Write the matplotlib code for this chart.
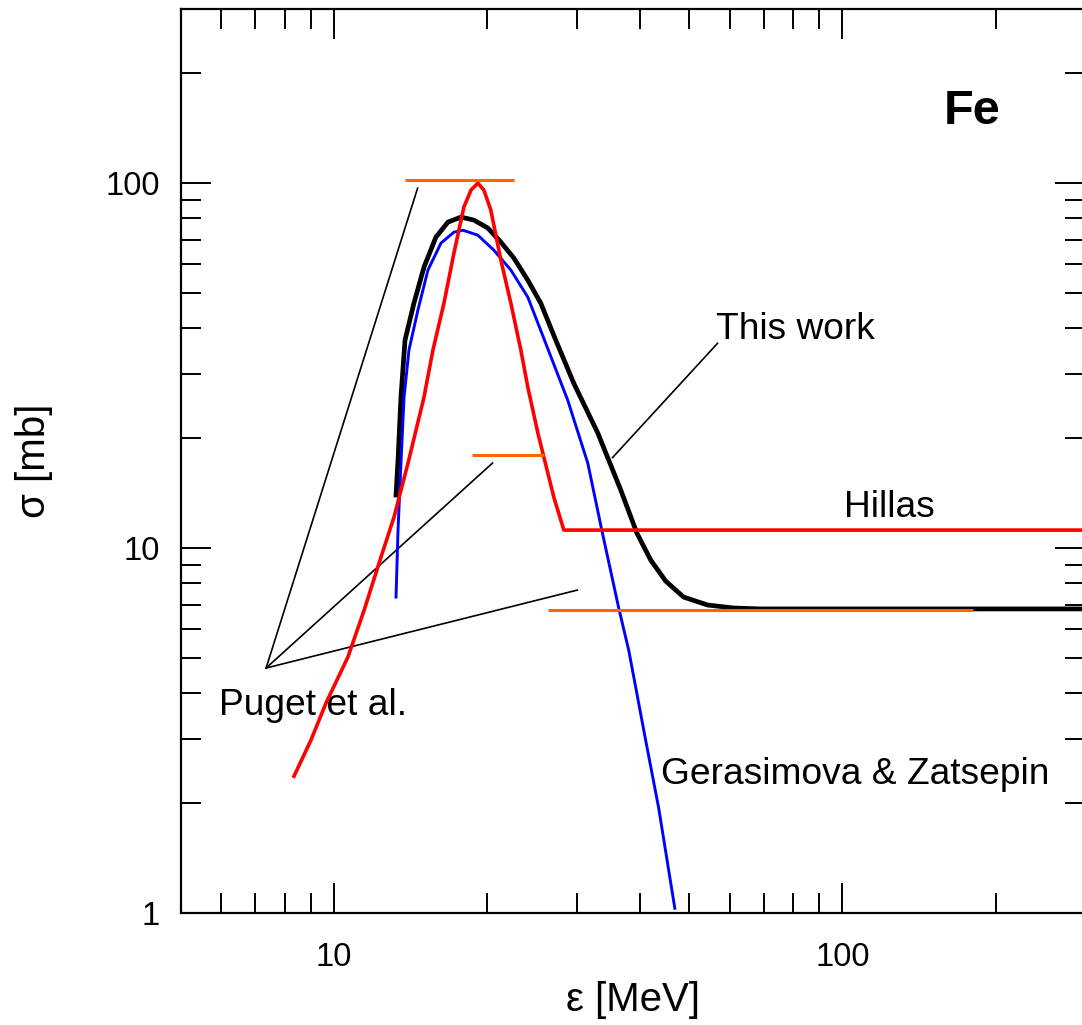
import numpy as np
import matplotlib
matplotlib.use("Agg")
import matplotlib.pyplot as plt
from matplotlib.ticker import LogLocator, FixedLocator, NullFormatter, FixedFormatter

plt.rcParams['font.family'] = ['Liberation Sans', 'DejaVu Sans']

# This work (black)
work_x = [13.24, 13.36, 13.54, 13.79, 14.36, 15.03, 15.86, 16.75, 17.77, 18.84, 20.07,
          21.29, 22.58, 24.05, 25.5, 27.3, 29.61, 33.02, 36.64, 39.4, 41.96, 44.9,
          48.7, 54.3, 61.1, 69.0, 300.0]
work_y = [13.97, 17.42, 25.93, 37.14, 46.9, 58.9, 71.1, 78.2, 80.7, 79.2, 75.3,
          68.9, 62.3, 54.2, 46.9, 37.1, 28.3, 20.66, 14.42, 11.0, 9.27, 8.12,
          7.34, 6.98, 6.85, 6.81, 6.81]

# Hillas (red)
hillas_x = [8.34, 9.01, 9.64, 10.65, 11.46, 12.37, 13.12, 13.98, 15.03, 15.65, 16.45,
            17.21, 18.0, 18.59, 19.18, 19.71, 20.34, 21.29, 22.27, 23.3, 24.05,
            25.17, 25.86, 27.05, 28.31, 300.0]
hillas_y = [2.37, 2.98, 3.76, 5.03, 6.76, 9.45, 12.16, 17.1, 25.93, 34.9, 46.9,
            64.3, 85.9, 95.7, 100.0, 95.7, 84.3, 61.5, 46.9, 34.9, 27.6,
            20.66, 17.76, 13.8, 11.2, 11.2]

# Gerasimova & Zatsepin (blue)
gz_x = [13.24, 13.36, 13.54, 13.73, 14.04, 14.62, 15.30, 16.23, 17.21, 17.92, 19.18,
        20.62, 22.27, 24.05, 25.62, 28.82, 31.55, 33.62, 36.3, 37.98, 41.0, 43.5, 46.8]
gz_y = [7.34, 11.2, 17.1, 25.93, 34.9, 44.9, 57.8, 68.5, 73.4, 74.3, 72.0,
        65.5, 57.8, 48.7, 38.8, 25.4, 17.1, 11.2, 6.85, 5.25, 2.98, 1.94, 1.03]

# Puget et al. steps (orange)
puget_x0 = [13.79, 18.67, 26.3]
puget_x1 = [22.58, 25.86, 180.7]
puget_y = [102.0, 17.98, 6.76]

# annotation pointers
puget_origin = (7.35, 4.69)
puget_tips = [(14.6, 96.9), (20.5, 17.1), (30.1, 7.67)]
work_ptr = [(56.8, 36.4), (35.3, 17.7)]

fig = plt.figure(figsize=(10.82, 10.25), dpi=100)
ax = fig.add_axes([0.1673, 0.1093, 0.8355, 0.8819])

ax.plot(work_x, work_y, color='black', lw=3.4, zorder=2)
ax.plot(gz_x, gz_y, color='#0000ff', lw=2.1, zorder=3)
ax.plot(hillas_x, hillas_y, color='#ff0000', lw=2.6, zorder=4)
ax.hlines(puget_y, puget_x0, puget_x1, color='#ff6600', lw=2.2, zorder=5)

for tx, ty in puget_tips:
    ax.plot([puget_origin[0], tx], [puget_origin[1], ty], color='black', lw=1.2)
ax.plot([p[0] for p in work_ptr], [p[1] for p in work_ptr], color='black', lw=1.2)

ax.set_xscale('log')
ax.set_yscale('log')
ax.set_xlim(5, 300)
ax.set_ylim(1, 300)

fs = 26.7
ax.text(56.3, 37.4, 'This work', fontsize=fs, va='baseline', ha='left')
ax.text(100.9, 12.16, 'Hillas', fontsize=fs, va='baseline', ha='left')
ax.text(5.94, 3.49, 'Puget et al.', fontsize=fs, va='baseline', ha='left')
ax.text(43.9, 2.26, 'Gerasimova & Zatsepin', fontsize=fs, va='baseline', ha='left')
ax.text(0.8755, 0.887, 'Fe', transform=ax.transAxes, fontsize=35, fontweight='bold',
        ha='center', va='center')

ax.set_xlabel('ε [MeV]', fontsize=29, labelpad=6)
ax.set_ylabel('σ [mb]', fontsize=29, labelpad=38)

ax.xaxis.set_major_locator(FixedLocator([10, 100]))
ax.xaxis.set_major_formatter(FixedFormatter(['10', '100']))
ax.xaxis.set_minor_locator(LogLocator(base=10, subs=np.arange(2, 10)))
ax.xaxis.set_minor_formatter(NullFormatter())
ax.yaxis.set_major_locator(FixedLocator([1, 10, 100]))
ax.yaxis.set_major_formatter(FixedFormatter(['1', '10', '100']))
ax.yaxis.set_minor_locator(LogLocator(base=10, subs=np.arange(2, 10)))
ax.yaxis.set_minor_formatter(NullFormatter())

ax.tick_params(which='both', direction='in', top=True, right=True, width=1.4,
               labelsize=23.5)
ax.tick_params(which='major', length=21.6)
ax.tick_params(which='minor', length=14.4)
ax.tick_params(axis='x', which='major', pad=21)
ax.tick_params(axis='y', which='major', pad=15)
for s in ax.spines.values():
    s.set_linewidth(1.6)

fig.savefig('out.png', dpi=100)
